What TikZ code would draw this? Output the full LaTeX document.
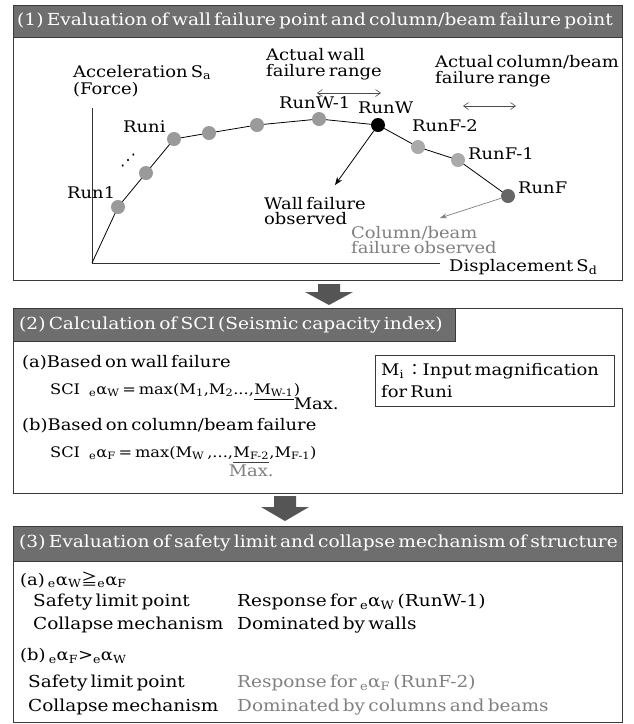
\documentclass[tikz,border=0pt]{standalone}
\usepackage{fontspec}
\setmainfont[WordSpace=0.55, FakeStretch=1.12]{DejaVu Serif}
\newfontfamily\cjk{Noto Sans CJK JP}
\newfontfamily\djs{DejaVu Sans}
\usetikzlibrary{arrows.meta}
\definecolor{hdr}{HTML}{6E6E6E}
\definecolor{blk}{HTML}{555555}
\definecolor{dotg}{HTML}{9A9A9A}
\definecolor{dotl}{HTML}{AAAAAA}
\definecolor{dotd}{HTML}{666666}
\definecolor{txg}{HTML}{808080}
\definecolor{bord}{HTML}{3A3A3A}
\newcommand{\sbs}[1]{\textsubscript{#1}}
\begin{document}
\begin{tikzpicture}[x=1pt,y=-1pt,
  txt/.style={font=\fontsize{16}{16}\selectfont, inner sep=0pt, anchor=west, align=left},
  fml/.style={font=\fontsize{14.5}{15}\selectfont, inner sep=0pt, anchor=west},
  bigtxt/.style={font=\fontsize{16.5}{17}\selectfont, inner sep=0pt, anchor=west},
  hdrtxt/.style={font=\fontsize{16.6}{17}\selectfont, text=white, inner sep=0pt, anchor=west},
  frame/.style={draw=bord, line width=1pt},
  hbar/.style={fill=hdr, draw=bord, line width=0.8pt},
  rundot/.style={circle, fill=dotg, minimum size=14pt, inner sep=0pt},
  curve/.style={line width=0.8pt, draw=black},
  rangearr/.style={draw=black!70, line width=0.6pt, {Straight Barb[length=5pt,width=7pt]}-{Straight Barb[length=5pt,width=7pt]}},
  blockarr/.style={fill=blk}
]
\useasboundingbox (0,0) rectangle (633,724);
\fill[white] (0,0) rectangle (633,724);

% ---------- Box 1 ----------
\draw[frame] (13,5) rectangle (622,280);
\draw[hbar] (13,5) rectangle (622,37);
\node[hdrtxt] (h1) at (17,21) {(1) Evaluation of wall failure point and column/beam failure point};

\node[txt, font=\fontsize{16}{17}\selectfont] (acc) at (73,81) {Acceleration S\sbs{a}\\(Force)};
\node[txt] (aw) at (266,64) {Actual wall\\failure range};
\node[txt] (ac) at (435,71) {Actual column/beam\\failure range};
\coordinate (wl) at (317,93);
\coordinate (wr) at (381,93);
\draw[rangearr] (wl) -- (wr);
\coordinate (cl) at (463,106);
\coordinate (cr) at (516,106);
\draw[rangearr] (cl) -- (cr);

% axes
\coordinate (O) at (92,263);
\coordinate (ytop) at (92,108);
\coordinate (xend) at (440,263);
\draw[line width=0.9pt, draw=black!80] (ytop) -- (O) -- (xend);
\node[txt] (dsp) at (449,267) {Displacement S\sbs{d}};

% curve points
\coordinate (p1) at (118,207);
\coordinate (p2) at (146,173);
\coordinate (pi) at (174,139);
\coordinate (p4) at (209,133);
\coordinate (p5) at (257,125);
\coordinate (pw1) at (319,119);
\coordinate (pw) at (378,125);
\coordinate (pf2) at (418,147);
\coordinate (pf1) at (458,160);
\coordinate (pf) at (508,196);
\draw[curve] (O) -- (p1) -- (p2) -- (pi) -- (p4) -- (p5) -- (pw1) -- (pw) -- (pf2) -- (pf1) -- (pf);
\node[rundot] (d1) at (p1) {};
\node[rundot] (d2) at (p2) {};
\node[rundot] (di) at (pi) {};
\node[rundot] (d4) at (p4) {};
\node[rundot] (d5) at (p5) {};
\node[rundot] (dw1) at (pw1) {};
\node[rundot, fill=black] (dw) at (pw) {};
\node[rundot, fill=dotl] (df2) at (pf2) {};
\node[rundot, fill=dotl] (df1) at (pf1) {};
\node[rundot, fill=dotd] (df) at (pf) {};

\node[txt] (l1) at (67,193) {Run1};
\node[txt] (li) at (123,127) {Runi};
\node[inner sep=0pt, font=\djs\fontsize{16}{16}\selectfont] (ldots) at (128,161) {⋰};
\node[txt] (lw1) at (279,103) {RunW-1};
\node[txt] (lw) at (358,108) {RunW};
\node[txt] (lf2) at (412,126) {RunF-2};
\node[txt] (lf1) at (468,154) {RunF-1};
\node[txt] (lf) at (518,188) {RunF};

\coordinate (wfo) at (335,185);
\draw[line width=0.8pt, -{Stealth[length=8pt,width=6pt]}] (dw) -- (wfo);
\node[txt, font=\fontsize{16}{15}\selectfont] (wf) at (264,211) {Wall failure\\observed};
\coordinate (cfo) at (440,218);
\draw[line width=0.7pt, draw=txg, -{Stealth[length=7pt,width=5pt]}] (df) -- (cfo);
\node[txt, text=txg, font=\fontsize{16}{15}\selectfont] (cf) at (351,240) {Column/beam\\failure observed};

% ---------- arrow 1 ----------
\coordinate (a1) at (329,284);
\fill[blockarr] (a1) ++(-11,0) -- ++(22,0) -- ++(0,8) -- ++(13,0) -- ++(-24,13) -- ++(-24,-13) -- ++(13,0) -- cycle;

% ---------- Box 2 ----------
\draw[frame] (13,308) rectangle (622,493);
\draw[hbar] (13,308) rectangle (455,341);
\node[hdrtxt] (h2) at (19,325) {(2) Calculation of SCI (Seismic capacity index)};

\node[txt] (ba) at (22,363) {(a)Based on wall failure};
\node[fml] (sw1) at (50,390) {SCI\hspace{9pt}\sbs{e}α\sbs{W} = max(M\sbs{1},M\sbs{2}...,};
\node[fml, anchor=west] (sw2) at (sw1.east) {M\sbs{W-1}};
\node[fml, anchor=west] (sw3) at (sw2.east) {)};
\draw[line width=0.9pt] ([yshift=-3pt]sw2.south west) -- ([yshift=-3pt]sw2.south east);
\node[txt, anchor=north west] (mxw) at ([yshift=-1pt]sw2.south east) {Max.};

\node[txt] (bb) at (22,426) {(b)Based on column/beam failure};
\node[fml] (sf1) at (50,453) {SCI\hspace{9pt}\sbs{e}α\sbs{F} = max(M\sbs{W} ,...,};
\node[fml, anchor=west] (sf2) at (sf1.east) {M\sbs{F-2}};
\node[fml, anchor=west] (sf3) at (sf2.east) {,M\sbs{F-1})};
\draw[line width=0.9pt, draw=black!75] ([yshift=-3pt]sf2.south west) -- ([yshift=-3pt]sf2.south east);
\node[txt, text=txg, anchor=north] (mxf) at ([yshift=-5pt]sf2.south) {Max.};

\draw[frame] (375,355) rectangle (614,406);
\node[txt, font=\fontsize{16}{22}\selectfont] (mi) at (381,381) {M\sbs{i}\,{\cjk ：}Input magnification\\for Runi};

% ---------- arrow 2 ----------
\coordinate (a2) at (285,496);
\fill[blockarr] (a2) ++(-11,0) -- ++(22,0) -- ++(0,11) -- ++(13,0) -- ++(-24,14) -- ++(-24,-14) -- ++(13,0) -- cycle;

% ---------- Box 3 ----------
\draw[frame] (13,526) rectangle (622,722);
\draw[hbar] (13,526) rectangle (622,561);
\node[hdrtxt] (h3) at (19,543) {(3) Evaluation of safety limit and collapse mechanism of structure};

\node[txt] (ca) at (20,580) {(a) \sbs{e}α\sbs{W}{\cjk ≧}\sbs{e}α\sbs{F}};
\node[bigtxt] (sa1) at (33,602) {Safety limit point};
\node[bigtxt] (ra1) at (237,602) {Response for \sbs{e}α\sbs{W} (RunW-1)};
\node[bigtxt] (sa2) at (33,625) {Collapse mechanism};
\node[bigtxt] (ra2) at (237,625) {Dominated by walls};

\node[txt] (cb) at (20,656) {(b) \sbs{e}α\sbs{F}>\sbs{e}α\sbs{W}};
\node[bigtxt] (sb1) at (28,683) {Safety limit point};
\node[bigtxt, text=txg] (rb1) at (237,683) {Response for \sbs{e}α\sbs{F} (RunF-2)};
\node[bigtxt] (sb2) at (28,707) {Collapse mechanism};
\node[bigtxt, text=txg] (rb2) at (237,707) {Dominated by columns and beams};
\end{tikzpicture}
\end{document}
